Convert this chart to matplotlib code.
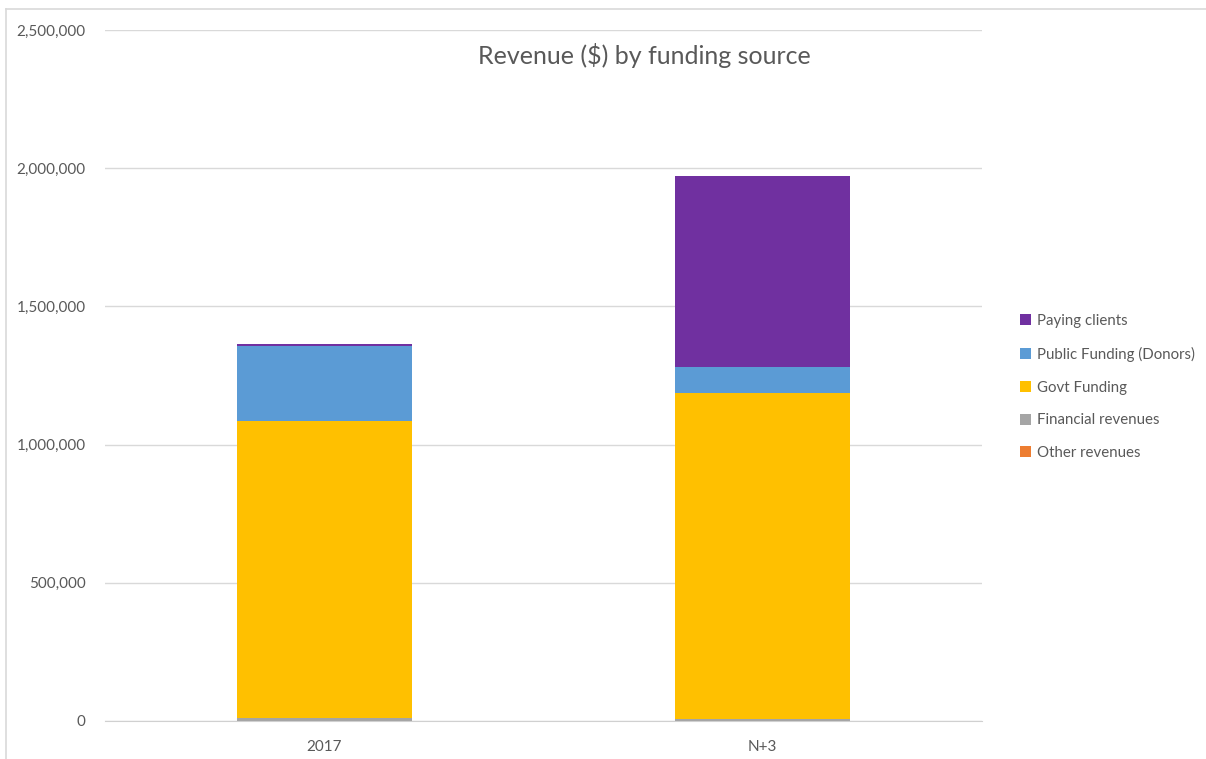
import matplotlib.pyplot as plt
import numpy as np
from matplotlib.lines import Line2D
from matplotlib.patches import Patch
from matplotlib.ticker import FuncFormatter

plt.rcParams['font.family'] = ['Lato', 'DejaVu Sans']

years = ['2017', 'N+3']
other_revenues = [0, 0]
financial_revenues = [11000, 6000]
govt_funding = [1076000, 1181000]
public_funding = [269000, 94000]
paying_clients = [7000, 690000]

series = [
    ('Other revenues', other_revenues, '#ED7D31'),
    ('Financial revenues', financial_revenues, '#A5A5A5'),
    ('Govt Funding', govt_funding, '#FFC000'),
    ('Public Funding (Donors)', public_funding, '#5B9BD5'),
    ('Paying clients', paying_clients, '#7030A0'),
]

fig = plt.figure(figsize=(12.06, 7.59), dpi=100)
ax = fig.add_axes([105 / 1206, 1 - 721 / 759, 877 / 1206, 691 / 759])

x = np.arange(len(years))
bottom = np.zeros(len(years))
for name, vals, color in series:
    ax.bar(x, vals, width=0.4, bottom=bottom, color=color, zorder=3)
    bottom += np.array(vals)

ax.set_xlim(-0.5, 1.5)
ax.set_ylim(0, 2500000)
ax.set_yticks(np.arange(0, 2500001, 500000))
ax.yaxis.set_major_formatter(FuncFormatter(lambda v, p: f'{int(v):,}'))
ax.set_xticks(x)
ax.set_xticklabels(years)
ax.grid(axis='y', color='#D9D9D9', linewidth=1.0, zorder=0)
for s in ['top', 'right', 'left']:
    ax.spines[s].set_visible(False)
ax.spines['bottom'].set_color('#D0D0D0')
ax.tick_params(axis='both', length=0, labelsize=11, labelcolor='#595959')
ax.tick_params(axis='y', pad=14)
ax.tick_params(axis='x', pad=14)

fig.text(644 / 1206, 1 - 56 / 759, 'Revenue ($) by funding source',
         ha='center', va='center', fontsize=18, color='#595959')

handles = [Patch(facecolor=c, label=n) for n, v, c in reversed(series)]
fig.legend(handles=handles, loc='center left',
           bbox_to_anchor=(1006 / 1206, 1 - 387 / 759), frameon=False,
           fontsize=10.8, labelcolor='#595959', handlelength=0.75,
           handleheight=0.75, handletextpad=0.4, labelspacing=1.25)

# chart area border
fig.add_artist(Line2D([5.5 / 1206, 1], [1 - 8.5 / 759] * 2, color='#D9D9D9', lw=1.2))
fig.add_artist(Line2D([5.5 / 1206] * 2, [0, 1 - 8.5 / 759], color='#D9D9D9', lw=1.2))

fig.savefig('out.png', dpi=100)
